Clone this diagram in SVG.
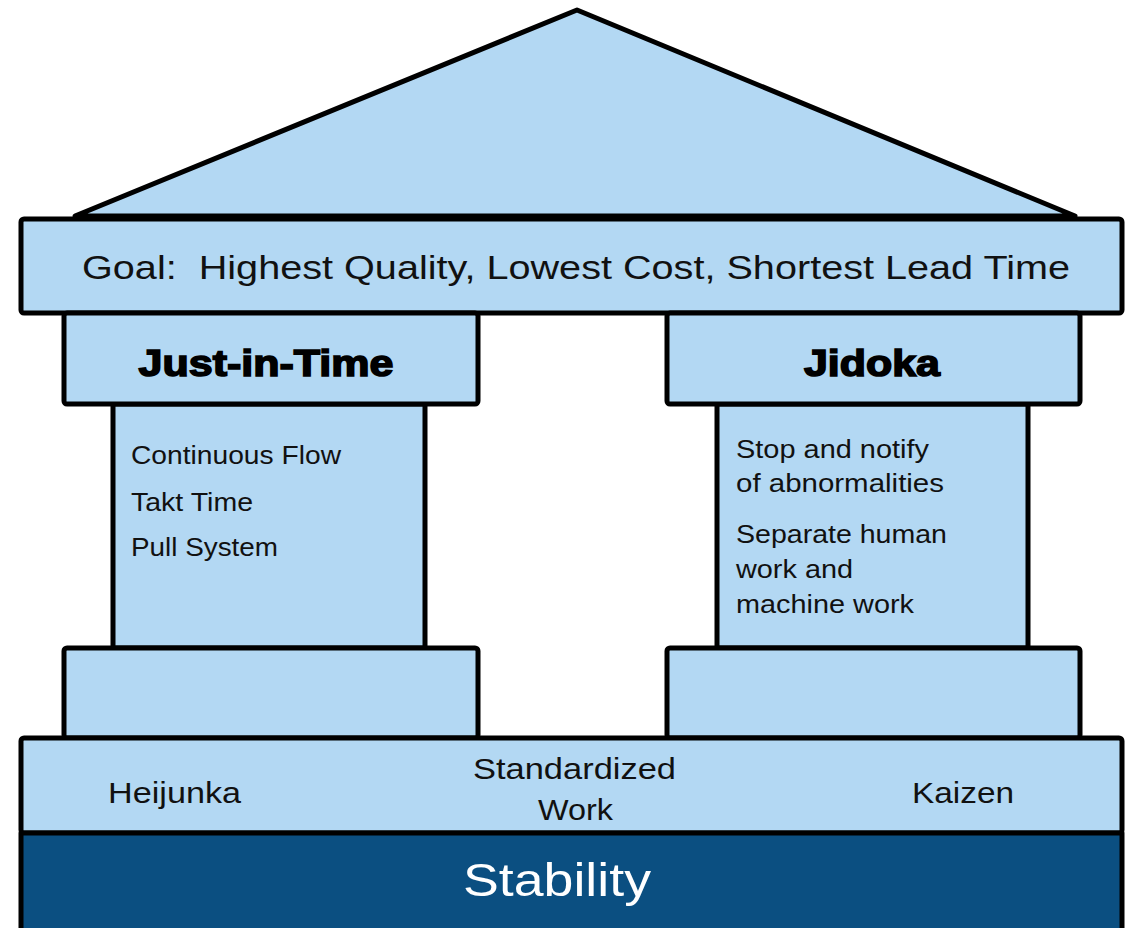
<svg xmlns="http://www.w3.org/2000/svg" width="1134" height="928" viewBox="0 0 1134 928">
<style>
.part{fill:#b3d8f3;stroke:#000;stroke-width:5;stroke-linejoin:round}
.dark{fill:#0b4f81;stroke:#000;stroke-width:5;stroke-linejoin:round}
.t{font-family:"Liberation Sans",Arial,sans-serif;fill:#111}
.h{font-family:"Liberation Sans",Arial,sans-serif;font-weight:bold;fill:#000;stroke:#000;stroke-width:1.6}
</style>
<rect width="1134" height="928" fill="#fff"/>
<g id="roof"><polygon class="part" points="75,216 577,10 1075,216"/></g>
<g id="jit-column"><rect class="part" x="113" y="404" width="312" height="244"/></g>
<g id="jidoka-column"><rect class="part" x="717" y="404" width="311" height="244"/></g>
<g id="goal">
<rect class="part" x="21" y="219" width="1101" height="94" rx="3"/>
<text class="t" x="576" y="279" font-size="34" text-anchor="middle" textLength="988" lengthAdjust="spacingAndGlyphs" xml:space="preserve">Goal:  Highest Quality, Lowest Cost, Shortest Lead Time</text>
</g>
<g id="jit-cap">
<rect class="part" x="64" y="313" width="414" height="91" rx="3"/>
<text class="h" x="266" y="376" font-size="37" text-anchor="middle" textLength="255" lengthAdjust="spacingAndGlyphs">Just-in-Time</text>
</g>
<g id="jidoka-cap">
<rect class="part" x="667" y="313" width="413" height="91" rx="3"/>
<text class="h" x="872" y="376" font-size="37" text-anchor="middle" textLength="136" lengthAdjust="spacingAndGlyphs">Jidoka</text>
</g>
<g id="jit-items" class="t" font-size="26">
<text x="131" y="464" textLength="210" lengthAdjust="spacingAndGlyphs">Continuous Flow</text>
<text x="131" y="511" textLength="122" lengthAdjust="spacingAndGlyphs">Takt Time</text>
<text x="131" y="556" textLength="147" lengthAdjust="spacingAndGlyphs">Pull System</text>
</g>
<g id="jidoka-items" class="t" font-size="26">
<text x="736" y="458" textLength="193" lengthAdjust="spacingAndGlyphs">Stop and notify</text>
<text x="736" y="492" textLength="208" lengthAdjust="spacingAndGlyphs">of abnormalities</text>
<text x="736" y="543" textLength="211" lengthAdjust="spacingAndGlyphs">Separate human</text>
<text x="736" y="578" textLength="117" lengthAdjust="spacingAndGlyphs">work and</text>
<text x="736" y="613" textLength="178" lengthAdjust="spacingAndGlyphs">machine work</text>
</g>
<g id="jit-base"><rect class="part" x="64" y="648" width="414" height="90" rx="3"/></g>
<g id="jidoka-base"><rect class="part" x="667" y="648" width="413" height="90" rx="3"/></g>
<g id="foundation">
<rect class="part" x="21" y="738" width="1101" height="95" rx="3"/>
<text class="t" x="174.5" y="803" font-size="29" text-anchor="middle" textLength="133" lengthAdjust="spacingAndGlyphs">Heijunka</text>
<text class="t" x="574.5" y="779" font-size="29" text-anchor="middle" textLength="203" lengthAdjust="spacingAndGlyphs">Standardized</text>
<text class="t" x="575.5" y="820" font-size="29" text-anchor="middle" textLength="75" lengthAdjust="spacingAndGlyphs">Work</text>
<text class="t" x="963" y="803" font-size="29" text-anchor="middle" textLength="102" lengthAdjust="spacingAndGlyphs">Kaizen</text>
</g>
<g id="stability">
<rect class="dark" x="21" y="833" width="1101" height="100"/>
<text x="557" y="896" font-family="Liberation Sans,Arial,sans-serif" font-size="46" fill="#fff" text-anchor="middle" textLength="188" lengthAdjust="spacingAndGlyphs">Stability</text>
</g>
</svg>
